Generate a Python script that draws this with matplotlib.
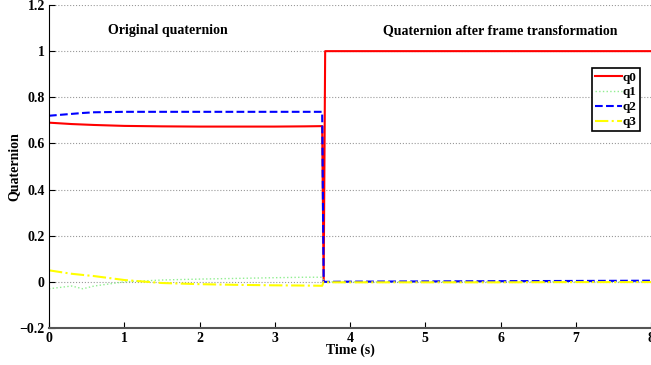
import numpy as np
import matplotlib.pyplot as plt

plt.rcParams['font.family'] = ['Liberation Serif', 'DejaVu Serif']
plt.rcParams['font.weight'] = 'bold'

# original quaternion, then the jump after the frame transformation at ~3.65 s
t = [0.0, 0.3, 0.45, 0.6, 1.0, 1.5, 2.0, 2.5, 3.0, 3.4, 3.63, 3.65, 3.67, 4.0, 5.0, 6.0, 7.0, 8.0]
q0 = [0.690, 0.684, 0.682, 0.680, 0.676, 0.674, 0.673, 0.673, 0.673, 0.674, 0.675, 0.0, 1.0, 1.0, 1.0, 1.0, 1.0, 1.0]
q1 = [-0.030, -0.018, -0.030, -0.018, 0.000, 0.008, 0.012, 0.015, 0.018, 0.020, 0.020, 0.0, 0.0, 0.0, 0.0, 0.0, 0.0, 0.0]
q2 = [0.720, 0.728, 0.732, 0.735, 0.737, 0.737, 0.737, 0.737, 0.737, 0.737, 0.737, 0.0, 0.0, 0.001, 0.002, 0.003, 0.004, 0.005]
q3 = [0.050, 0.035, 0.030, 0.025, 0.008, -0.005, -0.010, -0.013, -0.015, -0.016, -0.017, 0.0, -0.002, -0.002, -0.002, -0.002, -0.001, -0.001]

fig = plt.figure(figsize=(6.51, 3.65), dpi=100)
ax = fig.add_axes([49 / 651, 37 / 365, 602 / 651, 323 / 365])

ax.plot(t, q0, color='red', lw=1.5, label='q0')
ax.plot(t, q1, color='#90ee90', lw=1.0, ls=':', label='q1')
ax.plot(t, q2, color='blue', lw=1.5, ls='--', label='q2')
ax.plot(t, q3, color='yellow', lw=1.5, ls='-.', label='q3')

ax.set_xlim(0, 8)
ax.set_ylim(-0.2, 1.2)
ax.set_xticks(range(9))
ax.set_yticks([-0.2, 0, 0.2, 0.4, 0.6, 0.8, 1.0, 1.2])
ax.set_yticklabels(['\u22120.2', '0', '0.2', '0.4', '0.6', '0.8', '1', '1.2'])
ax.tick_params(direction='in', labelsize=10, pad=3, length=4)
ax.grid(axis='y', ls=':', color='#999999', lw=0.8)
ax.spines['top'].set_visible(False)
ax.spines['right'].set_visible(False)
ax.spines['bottom'].set_color('#555555')
ax.spines['bottom'].set_linewidth(1.5)

ax.set_xlabel('Time (s)', fontsize=10, fontweight='bold', labelpad=-1)
ax.set_ylabel('Quaternion', fontsize=10, fontweight='bold', labelpad=-1)

ax.text(1.58, 1.09, 'Original quaternion', ha='center', va='center', fontsize=10, fontweight='bold')
ax.text(6.0, 1.09, 'Quaternion after frame transformation', ha='center', va='center', fontsize=10, fontweight='bold')

leg = ax.legend(loc='upper right', bbox_to_anchor=(0.982, 0.805), fontsize=9.5, handlelength=2.0,
                handletextpad=0.1, borderpad=0.25, labelspacing=0.2, fancybox=False,
                edgecolor='black', framealpha=1, borderaxespad=0)
leg.get_frame().set_linewidth(1.2)

fig.savefig('out.png', dpi=100)
